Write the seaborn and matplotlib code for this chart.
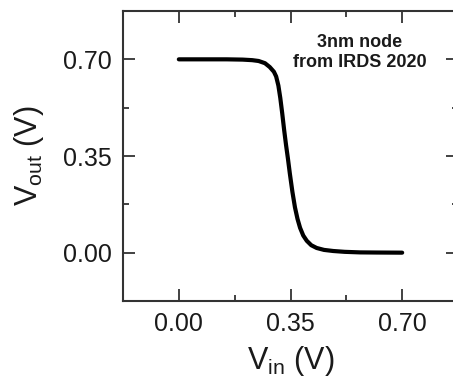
import matplotlib
matplotlib.use("Agg")
import matplotlib.pyplot as plt
from matplotlib.ticker import MultipleLocator
import seaborn as sns
import pandas as pd

# inverter transfer curve
vin = [0.00, 0.05, 0.10, 0.15, 0.20, 0.23, 0.25, 0.27, 0.285, 0.298, 0.305,
       0.312, 0.318, 0.324, 0.330, 0.336, 0.342, 0.348, 0.356, 0.364, 0.372,
       0.380, 0.390, 0.401, 0.415, 0.432, 0.455, 0.484, 0.52, 0.568, 0.62, 0.70]
vout = [0.700, 0.700, 0.700, 0.700, 0.699, 0.697, 0.694, 0.686, 0.672, 0.655, 0.638,
        0.605, 0.560, 0.505, 0.445, 0.390, 0.340, 0.286, 0.220, 0.164, 0.122,
        0.090, 0.062, 0.043, 0.027, 0.017, 0.010, 0.006, 0.003, 0.001, 0.0005, 0.0]
ticks = [0.00, 0.35, 0.70]
tick_labels = ["0.00", "0.35", "0.70"]
note = "3nm node\nfrom IRDS 2020"

df = pd.DataFrame({"Vin": vin, "Vout": vout})

sns.set_style("ticks")
plt.rcParams["font.family"] = ["Liberation Sans", "DejaVu Sans"]
plt.rcParams["mathtext.fontset"] = "custom"
plt.rcParams["mathtext.rm"] = "Liberation Sans"

fig = plt.figure(figsize=(4.53, 3.78), dpi=100)
ax = fig.add_axes([123 / 453, 77 / 378, 335 / 453, 290 / 378])

sns.lineplot(data=df, x="Vin", y="Vout", ax=ax, color="black", linewidth=3.0,
             solid_capstyle="round")

ax.set_xlim(-0.175, 0.875)
ax.set_ylim(-0.175, 0.875)
ax.set_xticks(ticks)
ax.set_xticklabels(tick_labels)
ax.set_yticks(ticks)
ax.set_yticklabels(tick_labels)
ax.xaxis.set_minor_locator(MultipleLocator(0.175))
ax.yaxis.set_minor_locator(MultipleLocator(0.175))
ax.tick_params(which="both", direction="in", top=True, right=True,
               width=1.3, color="#333333", labelsize=18, pad=8,
               labelcolor="#1a1a1a")
ax.tick_params(which="major", length=8.5)
ax.tick_params(which="minor", length=4.5)
for s in ax.spines.values():
    s.set_linewidth(1.5)
    s.set_color("#333333")

ax.set_xlabel(r"$\mathregular{V_{in}}$ (V)", fontsize=22, labelpad=6,
              color="#1a1a1a")
ax.set_ylabel(r"$\mathregular{V_{out}}$ (V)", fontsize=22, labelpad=12,
              color="#1a1a1a")

ax.text(0.568, 0.725, note, ha="center", va="center", fontsize=13,
        fontweight="bold", color="#1a1a1a")

fig.savefig("out.png", dpi=100)
